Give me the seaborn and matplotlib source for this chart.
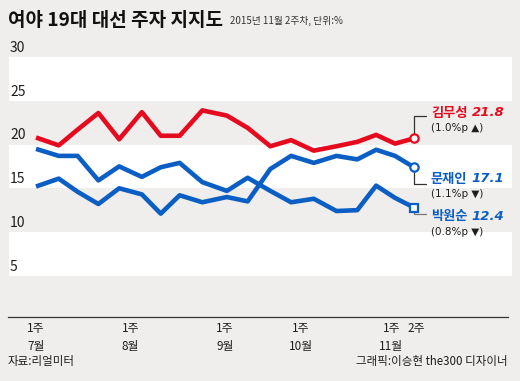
import matplotlib
matplotlib.use('Agg')
import matplotlib.pyplot as plt
import matplotlib.transforms as mtransforms
import seaborn as sns

# ── Data ──────────────────────────────────────────────────────────────────────
weeks = [0, 1.2, 2.2, 3.3, 4.4, 5.6, 6.6, 7.6, 8.8, 10.1, 11.2, 12.4,
         13.5, 14.7, 15.9, 17.0, 18.0, 19.0, 20.0]
kim = [20.8, 19.9, 21.7, 23.6, 20.6, 23.7, 21.0, 21.0, 23.9, 23.3, 21.9, 19.8,
       20.5, 19.3, 19.8, 20.3, 21.1, 20.1, 20.7]
moon = [15.2, 16.1, 14.6, 13.2, 15.0, 14.3, 12.1, 14.2, 13.4, 14.0, 13.5, 17.2,
        18.7, 17.9, 18.7, 18.3, 19.4, 18.7, 17.4]
park = [19.5, 18.7, 18.7, 15.9, 17.5, 16.3, 17.4, 17.9, 15.7, 14.7, 16.2, 14.7,
        13.4, 13.8, 12.4, 12.5, 15.3, 13.9, 12.8]

names = ['김무성', '문재인', '박원순']
latest = ['21.8', '17.1', '12.4']
changes = ['(1.0%p ▲)', '(1.1%p ▼)', '(0.8%p ▼)']

tick_weeks = list(range(21))
label_weeks = [0, 5, 10, 14, 19, 20]
label_text = ['1주\n7월', '1주\n8월', '1주\n9월', '1주\n10월', '1주\n11월', '2주']
y_ticks = [30, 25, 20, 15, 10, 5]

# ── Style ─────────────────────────────────────────────────────────────────────
BG = '#f0eeec'
RED = '#e60a1e'
BLUE = '#0b5ec4'
TXT = '#1e1e1e'

sns.set_style('white')
plt.rcParams['font.family'] = ['Noto Sans CJK KR', 'DejaVu Sans']

fig = plt.figure(figsize=(5.2, 3.81), dpi=100)
fig.patch.set_facecolor(BG)
W, H = 520, 381
ax = fig.add_axes([9 / W, 1 - 317 / H, (512 - 9) / W, (317 - 57) / H])
ax.set_facecolor(BG)
ax.set_xlim(-1.43, 25.19)
ax.set_ylim(0.29, 30)

for lo, hi in [(25, 30), (15, 20), (5, 10)]:
    ax.axhspan(lo, hi, color='white', lw=0, zorder=0)

for sp in ['top', 'right', 'left']:
    ax.spines[sp].set_visible(False)
ax.spines['bottom'].set_color('#333333')
ax.spines['bottom'].set_linewidth(0.9)
ax.spines['bottom'].set_bounds(-1.48, 24.97)

ax.set_yticks([])
ax.set_xticks(tick_weeks)
ax.set_xticklabels([])
ax.tick_params(axis='x', direction='in', length=4, width=0.8, color='#333333')

# month labels under the ticks; November's pair nudged apart like the original
nudge = {19: -0.2, 20: 0.1}
for wk, lab in zip(label_weeks, label_text):
    ax.text(wk + nudge.get(wk, 0), -0.02, lab, transform=ax.get_xaxis_transform(),
            ha='center', va='top', fontsize=8.5, color=TXT, linespacing=1.45)

for v in y_ticks:
    ax.text(0.002, v + 0.25, str(v), transform=ax.get_yaxis_transform(),
            ha='left', va='bottom', fontsize=10, color=TXT)

# ── Lines ─────────────────────────────────────────────────────────────────────
series = [(kim, RED, 'o'), (moon, BLUE, 'o'), (park, BLUE, 's')]
for vals, col, mk in series:
    sns.lineplot(x=weeks, y=vals, color=col, linewidth=3.3, sort=False, ax=ax, zorder=3)
    ln = ax.lines[-1]
    ln.set_solid_joinstyle('round')
    ln.set_solid_capstyle('butt')

# ── Callouts ──────────────────────────────────────────────────────────────────
LEAD_X = 20.63
TEXT_X = 20.9
lead_y = [23.26, 15.49, 12.06]
name_y = [23.65, 16.1, 11.8]
sub_y = [21.85, 14.3, 10.0]
lead_col = ['#333333', '#333333', '#777777']

fig.canvas.draw()
renderer = fig.canvas.get_renderer()
for i, (vals, col, mk) in enumerate(series):
    ax.plot([weeks[-1], weeks[-1], LEAD_X], [vals[-1], lead_y[i], lead_y[i]],
            color=lead_col[i], lw=0.9, zorder=2)
    ax.plot(weeks[-1], vals[-1], marker=mk, markersize=6 if mk == 'o' else 5.5,
            markerfacecolor='white', markeredgecolor=col, markeredgewidth=1.6,
            zorder=5)
    t = ax.text(TEXT_X, name_y[i], names[i], ha='left', va='center',
                fontsize=9.5, fontweight='bold', color=col)
    wpx = t.get_window_extent(renderer).width
    off = mtransforms.offset_copy(ax.transData, fig=fig, x=wpx / fig.dpi * 72 + 3,
                                  y=0, units='points')
    ax.text(TEXT_X, name_y[i], latest[i], ha='left', va='center', transform=off,
            fontsize=9.5, fontweight='bold', fontstyle='italic', color=col,
            family=['DejaVu Sans'])
    ax.text(TEXT_X, sub_y[i], changes[i], ha='left', va='center',
            fontsize=7.5, color=TXT, family=['DejaVu Sans'])

# ── Title & footer ────────────────────────────────────────────────────────────
fig.text(8 / W, 1 - 20 / H, '여야 19대 대선 주자 지지도', ha='left', va='center',
         fontsize=13.7, fontweight='bold', color='#111111')
fig.text(230 / W, 1 - 21 / H, '2015년 11월 2주차, 단위:%', ha='left', va='center',
         fontsize=7, color='#333333')
fig.text(8 / W, 1 - 361 / H, '자료:리얼미터', ha='left', va='center',
         fontsize=8.3, color=TXT)
fig.text(508 / W, 1 - 361 / H, '그래픽:이승현 the300 디자이너', ha='right', va='center',
         fontsize=8.3, color=TXT)

fig.savefig('out.png', dpi=100, facecolor=BG)
